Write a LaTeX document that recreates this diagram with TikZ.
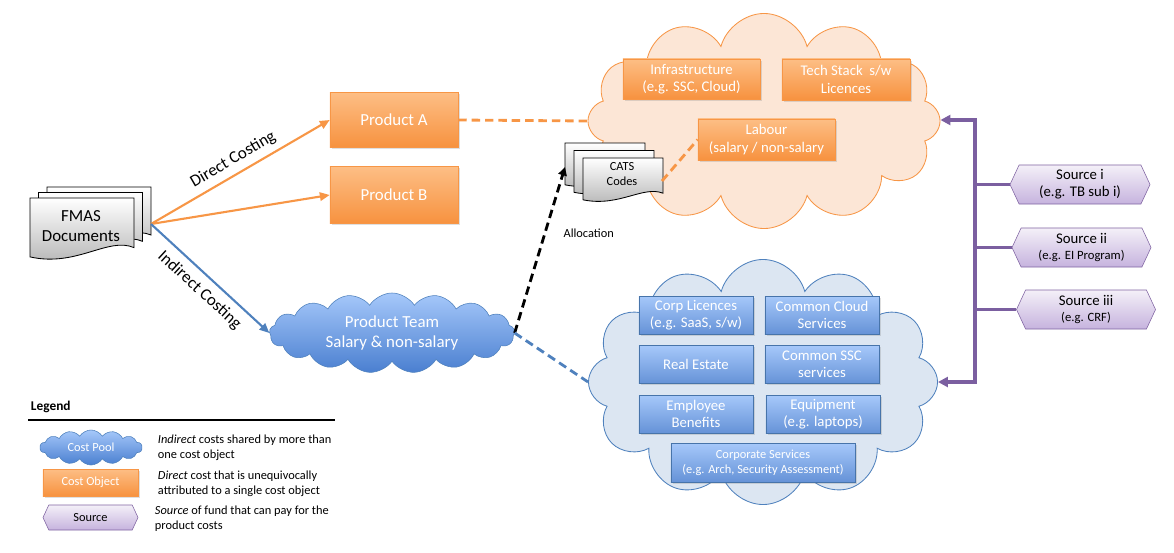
\documentclass[tikz,border=0pt]{standalone}
\usepackage{fontspec}
\setmainfont{Carlito}
\usetikzlibrary{shapes.symbols,arrows.meta,shadows}
\definecolor{objline}{HTML}{F79646}
\definecolor{objtop}{HTML}{FDBE85}
\definecolor{objbot}{HTML}{F7923F}
\definecolor{poolline}{HTML}{4F81BD}
\definecolor{pooltop}{HTML}{A6C8FA}
\definecolor{poolbot}{HTML}{4A7FD0}
\definecolor{paleorange}{HTML}{FCE6D6}
\definecolor{paleblue}{HTML}{DCE6F2}
\definecolor{srcline}{HTML}{8064A2}
\definecolor{srctop}{HTML}{F4F0F8}
\definecolor{srcbot}{HTML}{C6B3DE}
\definecolor{busline}{HTML}{7B5FA0}
\newcommand\docsheet[4]{%
  \draw[docsheet] (#1,#2) -- (#1+#3,#2) -- (#1+#3,#2+0.8*#4)
    .. controls (#1+0.75*#3,#2+0.62*#4) and (#1+0.45*#3,#2+1.12*#4) .. (#1,#2+0.95*#4) -- cycle;}
\begin{document}
\begin{tikzpicture}[x=0.025cm,y=-0.025cm,
    bigtext/.style={font=\fontsize{12}{14.5}\selectfont},
    boxtext/.style={font=\fontsize{10.5}{12.2}\selectfont},
    smalltext/.style={font=\fontsize{8.8}{10.6}\selectfont},
    costobj/.style={draw=objline, top color=objtop, bottom color=objbot, text=white,
      align=center, inner sep=1pt,
      drop shadow={opacity=0.25, shadow xshift=1.2pt, shadow yshift=-1.2pt}},
    poolbox/.style={draw=poolline!90!black, top color=pooltop, bottom color=poolbot!85!white,
      text=white, align=center, inner sep=1pt, minimum width=2.85cm, minimum height=0.95cm,
      drop shadow={opacity=0.25, shadow xshift=1.2pt, shadow yshift=-1.2pt}},
    poolcloud/.style={cloud, cloud puffs=#1, cloud puff arc=115, cloud ignores aspect,
      draw=poolline, top color=pooltop, bottom color=poolbot, text=white, align=center, inner sep=0pt},
    bigcloud/.style={cloud, cloud puffs=#1, cloud ignores aspect, inner sep=0pt, line width=0.6pt},
    source/.style={signal, signal to=east and west, signal pointer angle=130,
      draw=srcline, top color=srctop, bottom color=srcbot, align=center, inner sep=0pt},
    docsheet/.style={draw=black, line width=0.6pt, top color=white, bottom color=black!30},
    direct/.style={draw=objline, line width=1.5pt, -{Triangle[length=7pt,width=6pt]}},
    indirect/.style={draw=poolline, line width=1.5pt, -{Triangle[length=7pt,width=6pt]}},
    odash/.style={draw=objline, line width=2pt, dash pattern=on 6pt off 3.5pt},
    bdash/.style={draw=poolline, line width=2pt, dash pattern=on 6pt off 3.5pt},
    kdash/.style={draw=black, line width=2pt, dash pattern=on 6pt off 3.5pt,
      -{Triangle[length=6pt,width=6pt]}},
    bus/.style={draw=busline, line width=2.8pt}]
  \useasboundingbox (0,0) rectangle (1174,552);

  \node[bigcloud=12, draw=objline, fill=paleorange, minimum width=8.8cm, minimum height=5.375cm]
    (labourpool) at (764,121) {};
  \node[bigcloud=12, draw=poolline, fill=paleblue, minimum width=8.725cm, minimum height=6.125cm]
    (corppool) at (763,382) {};
  \node[poolcloud=17, bigtext, minimum width=6.125cm, minimum height=2cm]
    (team) at (392,333) {Product Team\\Salary \& non-salary};

  \node[costobj, bigtext, minimum width=3.2cm, minimum height=1.375cm] (prodA) at (394,120) {Product A};
  \node[costobj, bigtext, minimum width=3.2cm, minimum height=1.425cm] (prodB) at (394,195) {Product B};
  \node[costobj, boxtext, minimum width=3.425cm, minimum height=1cm] (infra) at (691.5,79)
    {Infrastructure\\(e.g. SSC, Cloud)};
  \node[costobj, boxtext, minimum width=3.2cm, minimum height=1.025cm] (techstack) at (846,79.5)
    {Tech Stack\ \ s/w\\Licences};
  \node[costobj, boxtext, minimum width=3.425cm, minimum height=1.025cm] (labour) at (766.5,139.5)
    {Labour\\(salary / non-salary};

  \node[poolbox, boxtext] (corplic) at (696,315) {Corp Licences\\(e.g. SaaS, s/w)};
  \node[poolbox, boxtext] (cloudsvc) at (822,315) {Common Cloud\\Services};
  \node[poolbox, boxtext] (realestate) at (696,364.5) {Real Estate};
  \node[poolbox, boxtext] (sscsvc) at (822,364.5) {Common SSC\\services};
  \node[poolbox, boxtext] (benefits) at (696,414) {Employee\\Benefits};
  \node[poolbox, boxtext] (equipment) at (823,414.5) {Equipment\\(e.g. laptops)};
  \node[poolbox, smalltext, minimum width=4.6cm, minimum height=0.975cm] (corpsvc) at (763,462.5)
    {Corporate Services\\(e.g. Arch, Security Assessment)};

  \node[source, minimum width=3.5cm, minimum height=0.975cm] (src1) at (1080,184.5)
    {\fontsize{10.5}{12.5}\selectfont Source i\\\fontsize{10.5}{12.5}\selectfont(e.g. TB sub i)};
  \node[source, minimum width=3.475cm, minimum height=0.975cm] (src2) at (1081.5,247.5)
    {\fontsize{10.5}{12.5}\selectfont Source ii\\\fontsize{9}{11}\selectfont(e.g. EI Program)};
  \node[source, minimum width=3.475cm, minimum height=0.975cm] (src3) at (1086,309.5)
    {\fontsize{10.5}{12.5}\selectfont Source iii\\\fontsize{9}{11}\selectfont(e.g. CRF)};

  \docsheet{47}{187}{104}{60}
  \docsheet{38.5}{192.5}{104}{61}
  \docsheet{30}{198}{104}{62}
  \node[bigtext, align=center] (fmas) at (81,226) {FMAS\\Documents};
  \docsheet{565}{143}{80}{44}
  \docsheet{574}{150.5}{80}{44}
  \docsheet{583}{158}{80}{44}
  \node[smalltext, align=center] (cats) at (622,174) {CATS\\Codes};
  \coordinate (fmasout) at (151,224);
  \coordinate (catsin) at (565,167);
  \coordinate (catsout) at (662,181);

  \draw[direct] (fmasout) -- node[sloped, above=1pt, bigtext] {Direct Costing} (prodA.west);
  \draw[direct] (fmasout) -- (prodB.west);
  \draw[indirect] (fmasout) -- node[sloped, below=2pt, bigtext] {Indirect Costing} (team.west);
  \draw[odash] (prodA.east) -- (labourpool.west);
  \draw[odash] (catsout) -- (labour.west);
  \draw[kdash] (team.east) -- node[pos=0.6, right=9pt, smalltext] {Allocation} (catsin);
  \draw[bdash] (team.east) -- (corppool.west);

  \coordinate (bustop) at (975,120);
  \coordinate (busbot) at (975,382);
  \draw[bus, {Triangle[length=7pt,width=7pt]}-{Triangle[length=7pt,width=7pt]}]
    (bustop -| labourpool.east) -- (bustop) -- (busbot) -- (busbot -| corppool.east);
  \draw[bus] (src1.west) -- (src1.west -| bustop);
  \draw[bus] (src2.west) -- (src2.west -| bustop);
  \draw[bus] (src3.west) -- (src3.west -| bustop);

  \node[anchor=west, font=\fontsize{9.5}{11}\selectfont\bfseries] (legend) at (26,407) {Legend};
  \coordinate (rulestart) at (28,420);
  \coordinate (ruleend) at (335,420);
  \draw[line width=1.5pt] (rulestart) -- (ruleend);
  \node[poolcloud=14, smalltext, minimum width=2.55cm, minimum height=0.875cm] (legpool) at (91,447.5) {Cost Pool};
  \node[costobj, smalltext, minimum width=2.375cm, minimum height=0.675cm] (legobj) at (90.5,482.5) {Cost Object};
  \node[source, smalltext, minimum width=2.375cm, minimum height=0.625cm] (legsrc) at (90.5,517.5) {Source};
  \node[smalltext, anchor=west, align=left] (legpooltext) at (153,448)
    {\textit{Indirect} costs shared by more than\\one cost object};
  \node[smalltext, anchor=west, align=left] (legobjtext) at (153,484)
    {\textit{Direct} cost that is unequivocally\\attributed to a single cost object};
  \node[smalltext, anchor=west, align=left] (legsrctext) at (150,518.5)
    {\textit{Source} of fund that can pay for the\\product costs};
\end{tikzpicture}
\end{document}
